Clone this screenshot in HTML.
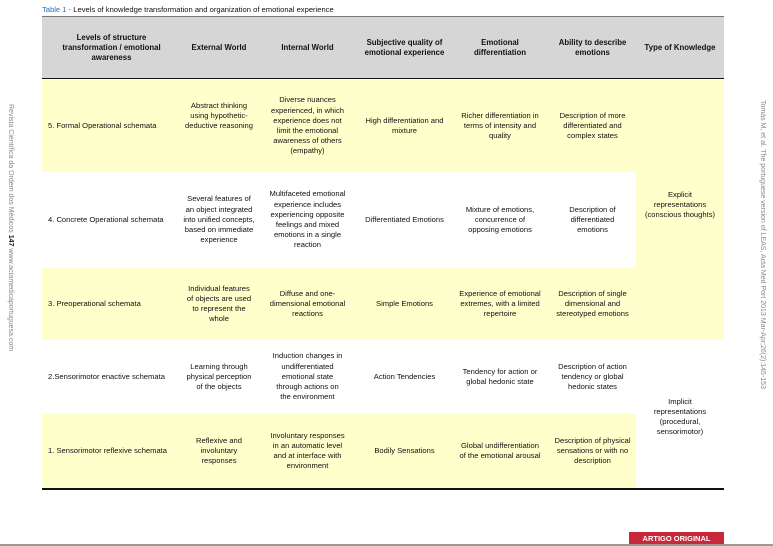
<!DOCTYPE html>
<html><head><meta charset="utf-8"><style>
body{margin:0;width:773px;height:546px;background:#fff;position:relative;overflow:hidden;font-family:"Liberation Sans",Arial,sans-serif;}
.c{position:absolute;display:flex;align-items:center;justify-content:center;text-align:center;font-size:7.6px;line-height:10.2px;color:#111;box-sizing:border-box;padding:0 9px;}
.l{justify-content:flex-start;text-align:left;padding-left:6px;}
.h{font-weight:bold;font-size:7.8px;}
.y{background:#ffffcc;}
.v{position:absolute;white-space:nowrap;font-size:7px;color:#888;transform-origin:0 0;transform:rotate(90deg);}
</style></head><body>
<div style="position:absolute;left:42px;top:5px;font-size:7.6px;color:#111;"><span style="color:#2a6ab0">Table 1</span> <span style="color:#2a6ab0">-</span> Levels of knowledge transformation and organization of emotional experience</div>
<div style="position:absolute;left:42px;top:16px;width:682px;height:63px;background:#d6d6d6;border-top:1px solid #777;border-bottom:1.5px solid #111;box-sizing:border-box"></div>
<div class="y" style="position:absolute;left:42px;top:80px;width:682px;height:92px"></div>
<div class="y" style="position:absolute;left:636px;top:172px;width:88px;height:96px"></div>
<div class="y" style="position:absolute;left:42px;top:268px;width:682px;height:72px"></div>
<div class="y" style="position:absolute;left:42px;top:414px;width:594px;height:74px"></div>
<div style="position:absolute;left:42px;top:488px;width:682px;height:1.5px;background:#111"></div>
<!-- header -->
<div class="c h" style="left:42px;top:17px;width:139px;height:62px;padding:0 14px">Levels of structure transformation / emotional awareness</div>
<div class="c h" style="left:181px;top:17px;width:76px;height:62px;padding:0 2px">External World</div>
<div class="c h" style="left:257px;top:17px;width:101px;height:62px">Internal World</div>
<div class="c h" style="left:358px;top:17px;width:93px;height:62px;padding:0 4px">Subjective quality of emotional experience</div>
<div class="c h" style="left:451px;top:17px;width:98px;height:62px;padding:0 12px">Emotional differentiation</div>
<div class="c h" style="left:549px;top:17px;width:87px;height:62px;padding:0 6px">Ability to describe emotions</div>
<div class="c h" style="left:636px;top:17px;width:88px;height:62px;padding:0 2px">Type of Knowledge</div>
<!-- row5 -->
<div class="c l" style="left:42px;top:80px;width:139px;height:92px">5. Formal Operational schemata</div>
<div class="c" style="left:181px;top:80px;width:76px;height:72px;padding:0 1px">Abstract thinking using hypothetic-deductive reasoning</div>
<div class="c" style="left:257px;top:80px;width:101px;height:92px;padding:0 11px">Diverse nuances experienced, in which experience does not limit the emotional awareness of others (empathy)</div>
<div class="c" style="left:358px;top:80px;width:93px;height:92px;padding:0 6px">High differentiation and mixture</div>
<div class="c" style="left:451px;top:80px;width:98px;height:92px;padding:0 8px">Richer differentiation in terms of intensity and quality</div>
<div class="c" style="left:549px;top:80px;width:87px;height:92px;padding:0 7px">Description of more differentiated and complex states</div>
<!-- row4 -->
<div class="c l" style="left:42px;top:172px;width:139px;height:96px">4. Concrete Operational schemata</div>
<div class="c" style="left:181px;top:172px;width:76px;height:96px;padding:0 2px">Several features of an object integrated into unified concepts, based on immediate experience</div>
<div class="c" style="left:257px;top:172px;width:101px;height:96px;padding:0 10px">Multifaceted emotional experience includes experiencing opposite feelings and mixed emotions in a single reaction</div>
<div class="c" style="left:358px;top:172px;width:93px;height:96px;padding:0 4px">Differentiated Emotions</div>
<div class="c" style="left:451px;top:172px;width:98px;height:96px;padding:0 12px">Mixture of emotions, concurrence of opposing emotions</div>
<div class="c" style="left:549px;top:172px;width:87px;height:96px;padding:0 14px">Description of differentiated emotions</div>
<div class="c" style="left:636px;top:172px;width:88px;height:66px;padding:0 6px">Explicit representations (conscious thoughts)</div>
<!-- row3 -->
<div class="c l" style="left:42px;top:268px;width:139px;height:72px">3. Preoperational schemata</div>
<div class="c" style="left:181px;top:268px;width:76px;height:72px;padding:0 4px">Individual features of objects are used to represent the whole</div>
<div class="c" style="left:257px;top:268px;width:101px;height:72px;padding:0 12px">Diffuse and one-dimensional emotional reactions</div>
<div class="c" style="left:358px;top:268px;width:93px;height:72px">Simple Emotions</div>
<div class="c" style="left:451px;top:268px;width:98px;height:72px;padding:0 8px">Experience of emotional extremes, with a limited repertoire</div>
<div class="c" style="left:549px;top:268px;width:87px;height:72px;padding:0 5px">Description of single dimensional and stereotyped emotions</div>
<!-- row2 -->
<div class="c l" style="left:42px;top:340px;width:139px;height:74px">2.Sensorimotor enactive schemata</div>
<div class="c" style="left:181px;top:340px;width:76px;height:74px;padding:0 4px">Learning through physical perception of the objects</div>
<div class="c" style="left:257px;top:340px;width:101px;height:74px;padding:0 14px">Induction changes in undifferentiated emotional state through actions on the environment</div>
<div class="c" style="left:358px;top:340px;width:93px;height:74px">Action Tendencies</div>
<div class="c" style="left:451px;top:340px;width:98px;height:74px;padding:0 8px">Tendency for action or global hedonic state</div>
<div class="c" style="left:549px;top:340px;width:87px;height:74px;padding:0 4px">Description of action tendency or global hedonic states</div>
<div class="c" style="left:636px;top:380px;width:88px;height:74px;padding:0 12px">Implicit representations (procedural, sensorimotor)</div>
<!-- row1 -->
<div class="c l" style="left:42px;top:414px;width:139px;height:74px">1. Sensorimotor reflexive schemata</div>
<div class="c" style="left:181px;top:414px;width:76px;height:74px;padding:0 10px">Reflexive and involuntary responses</div>
<div class="c" style="left:257px;top:414px;width:101px;height:74px;padding:0 10px">Involuntary responses in an automatic level and at interface with environment</div>
<div class="c" style="left:358px;top:414px;width:93px;height:74px">Bodily Sensations</div>
<div class="c" style="left:451px;top:414px;width:98px;height:74px;padding:0 6px">Global undifferentiation of the emotional arousal</div>
<div class="c" style="left:549px;top:414px;width:87px;height:74px;padding:0 3px">Description of physical sensations or with no description</div>
<!-- side texts -->
<div class="v" style="left:14px;top:104px">Revista Científica da Ordem dos Médicos <b style="color:#222">147</b> www.actamedicaportuguesa.com</div>
<div class="v" style="left:766px;top:100px">Tomás M, et al. The portuguese version of LEAS, Acta Med Port 2013 Mar-Apr;26(2):145-153</div>
<div style="position:absolute;left:629px;top:532px;width:95px;height:13px;background:#c8283a;color:#fff;font-size:7.5px;font-weight:bold;display:flex;align-items:center;justify-content:center">ARTIGO ORIGINAL</div>
<div style="position:absolute;left:0;top:544px;width:773px;height:2px;background:#999"></div>
</body></html>
